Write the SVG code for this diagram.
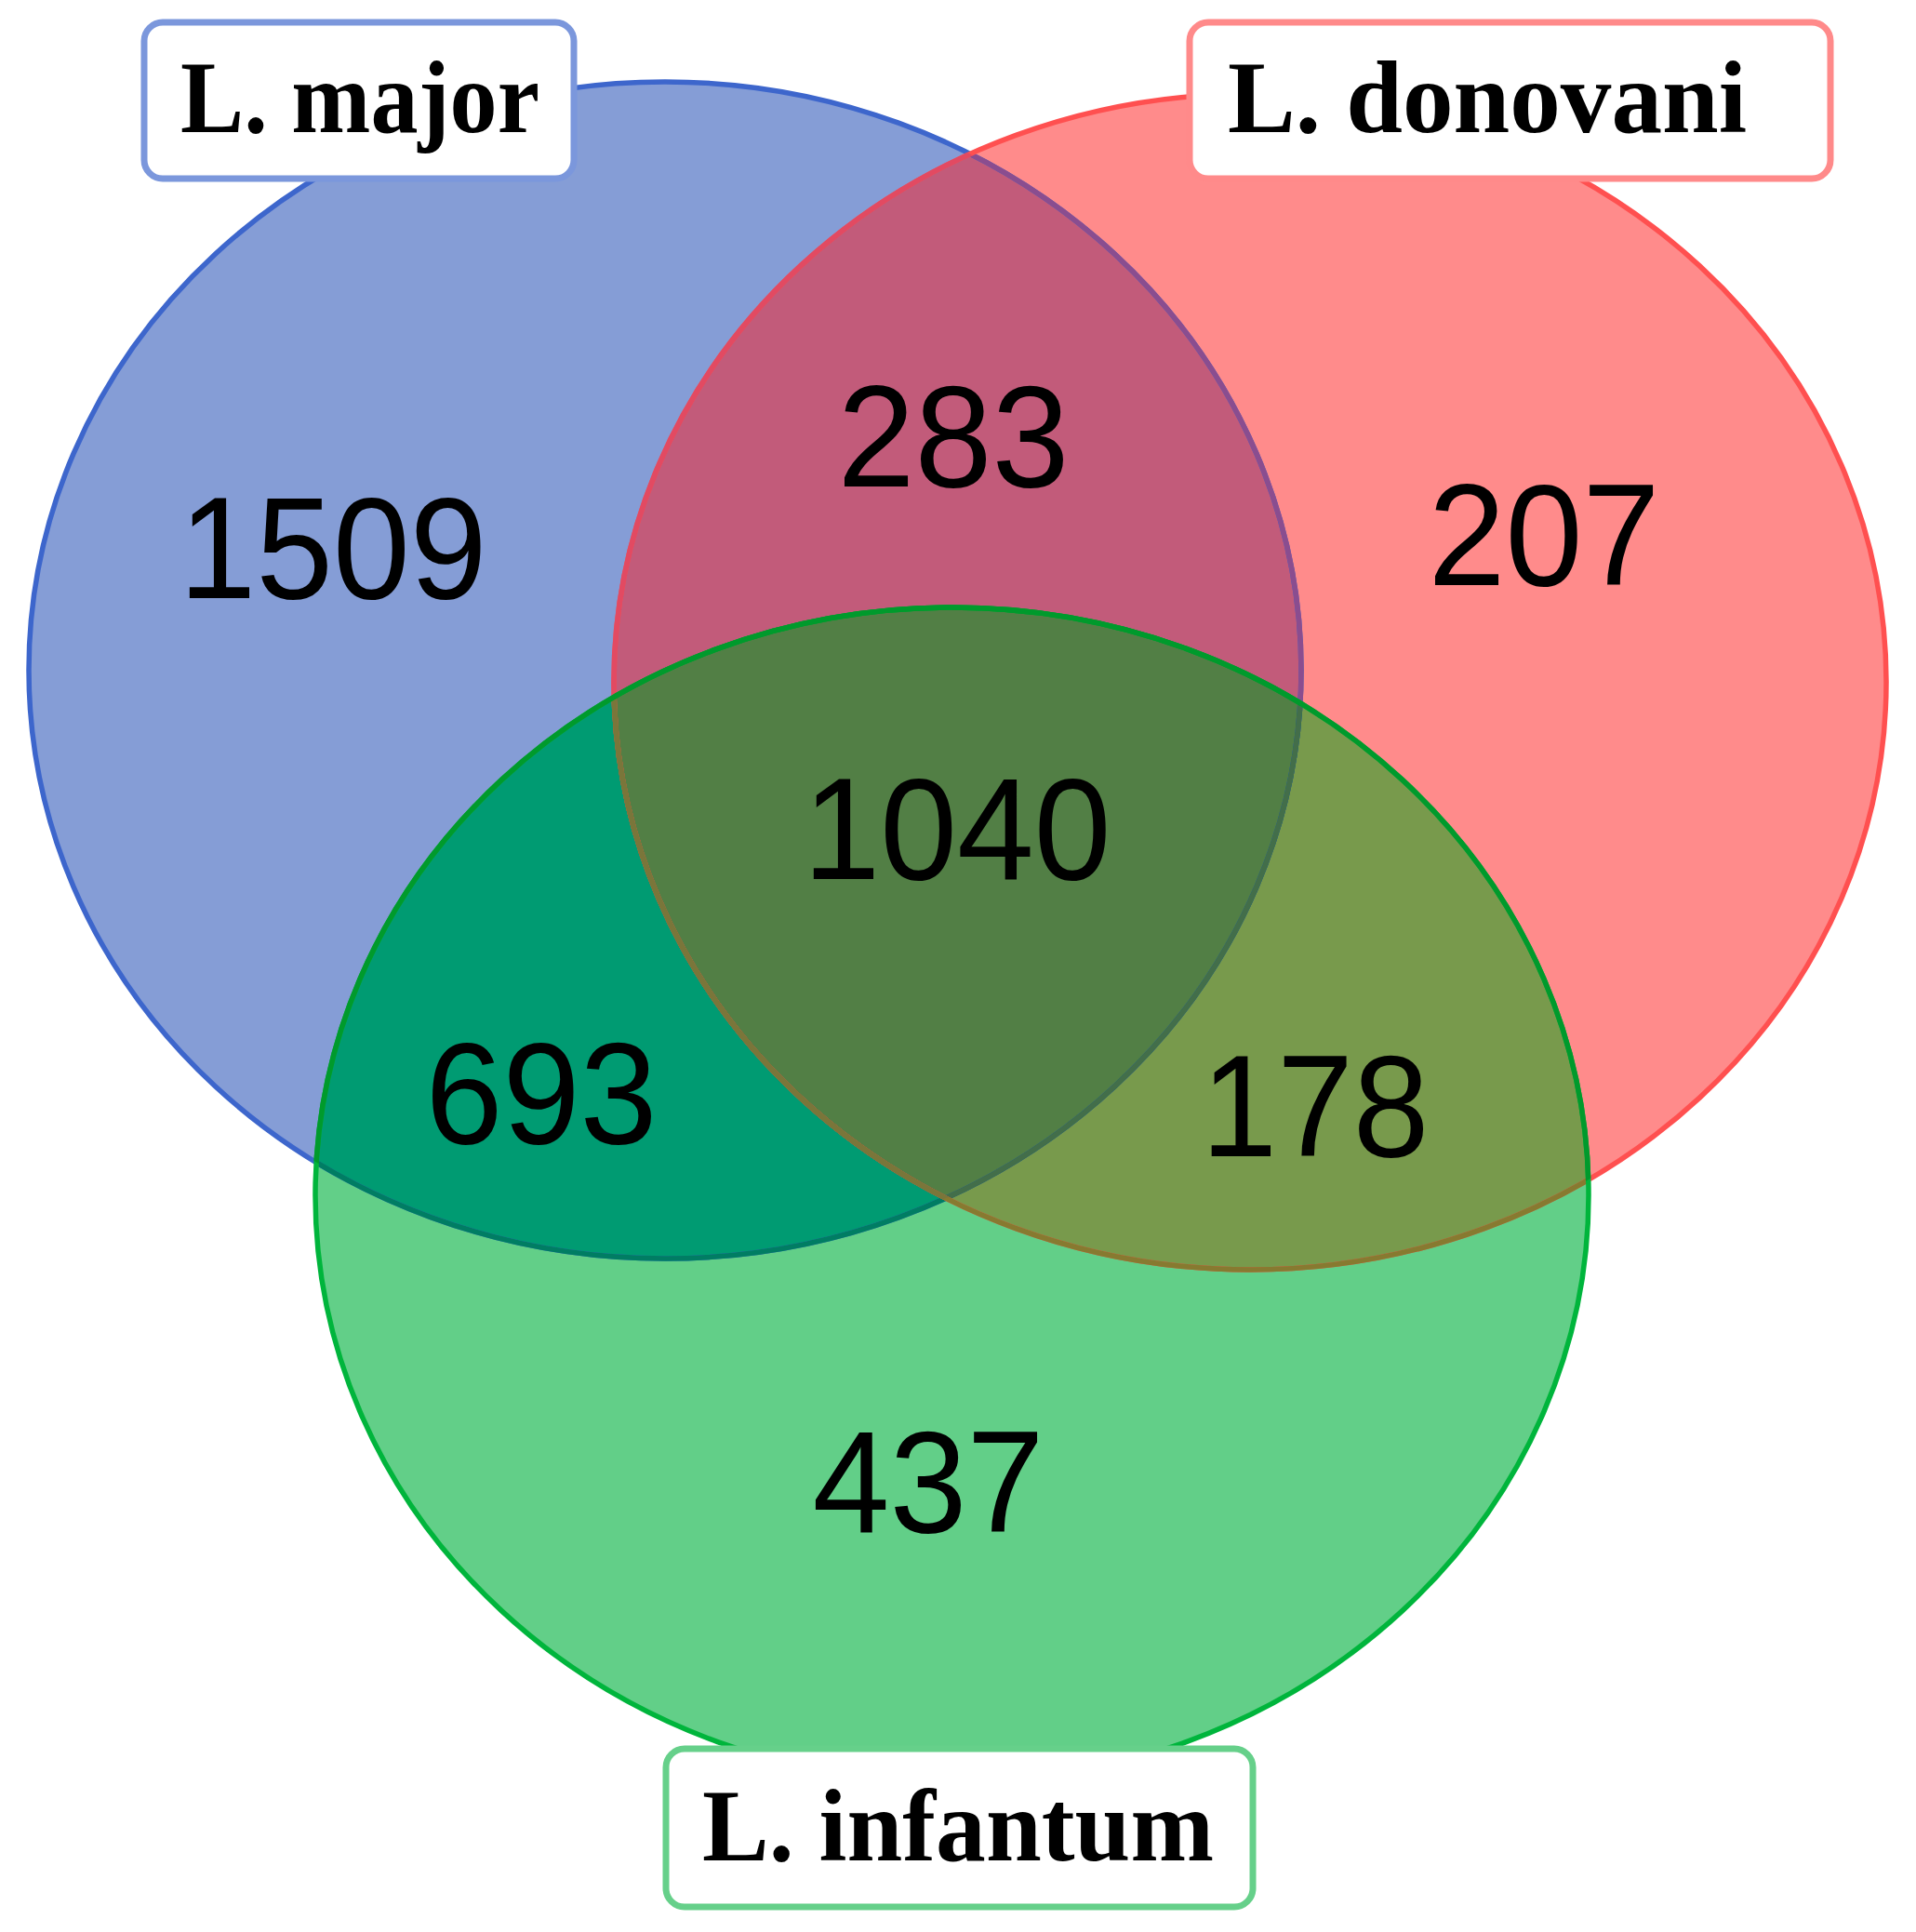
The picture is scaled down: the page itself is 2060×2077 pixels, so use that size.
<svg xmlns="http://www.w3.org/2000/svg" width="2060" height="2077" viewBox="0 0 2060 2077">
  <style>
    .num { font-family: "Liberation Sans", Arial, sans-serif; font-size: 156px; fill: #000; text-anchor: middle; }
    .lbl { font-family: "Liberation Serif", "Times New Roman", serif; font-weight: bold; font-size: 110px; fill: #000; }
    .box { fill: #fff; stroke-width: 7; }
    .ol { fill: none; stroke-width: 5.5; }
  </style>
  <defs>
    <ellipse id="eB" cx="715" cy="720.5" rx="684" ry="632.5"/>
    <ellipse id="eR" cx="1344" cy="733" rx="684" ry="632"/>
    <ellipse id="eG" cx="1023.5" cy="1285" rx="684.5" ry="632"/>
    <clipPath id="cB"><use href="#eB"/></clipPath>
    <clipPath id="cR"><use href="#eR"/></clipPath>
    <clipPath id="cG"><use href="#eG"/></clipPath>
  </defs>
  <rect width="2060" height="2077" fill="#fff"/>

  <g id="fills">
    <use href="#eB" fill="#859dd6"/>
    <use href="#eR" fill="#ff8b8b"/>
    <use href="#eG" fill="#62cf88"/>
    <use href="#eR" fill="#c25b7a" clip-path="url(#cB)"/>
    <use href="#eG" fill="#009b72" clip-path="url(#cB)"/>
    <use href="#eG" fill="#789a4c" clip-path="url(#cR)"/>
    <g clip-path="url(#cB)"><use href="#eG" fill="#527f45" clip-path="url(#cR)"/></g>
  </g>

  <g id="outlines">
    <use href="#eB" class="ol" stroke="#3d66cc"/>
    <use href="#eB" class="ol" stroke="#8a4d8f" clip-path="url(#cR)"/>
    <use href="#eB" class="ol" stroke="#007d63" clip-path="url(#cG)"/>
    <g clip-path="url(#cR)"><use href="#eB" class="ol" stroke="#436e4a" clip-path="url(#cG)"/></g>
    <use href="#eR" class="ol" stroke="#ff5050"/>
    <use href="#eR" class="ol" stroke="#e24a62" clip-path="url(#cB)"/>
    <use href="#eR" class="ol" stroke="#877a30" clip-path="url(#cG)"/>
    <g clip-path="url(#cB)"><use href="#eR" class="ol" stroke="#7a763a" clip-path="url(#cG)"/></g>
    <use href="#eG" class="ol" stroke="#00b53c"/>
    <use href="#eG" class="ol" stroke="#009a2c" clip-path="url(#cB)"/>
    <use href="#eG" class="ol" stroke="#009a2c" clip-path="url(#cR)"/>
  </g>

  <g id="label-major">
    <rect class="box" x="155" y="24" width="462" height="168" rx="20" stroke="#7b97dc"/>
    <text class="lbl" x="194" y="142" textLength="386" lengthAdjust="spacingAndGlyphs">L. major</text>
  </g>
  <g id="label-donovani">
    <rect class="box" x="1279" y="24" width="689" height="168" rx="20" stroke="#ff8a8a"/>
    <text class="lbl" x="1320" y="142" textLength="558" lengthAdjust="spacingAndGlyphs">L. donovani</text>
  </g>
  <g id="label-infantum">
    <rect class="box" x="716" y="1880" width="631" height="170" rx="20" stroke="#66d08a"/>
    <text class="lbl" x="755" y="2000" textLength="550" lengthAdjust="spacingAndGlyphs">L. infantum</text>
  </g>

  <g id="counts">
    <text class="num" x="358" y="643" textLength="331" lengthAdjust="spacingAndGlyphs">1509</text>
    <text class="num" x="1025" y="523" textLength="249" lengthAdjust="spacingAndGlyphs">283</text>
    <text class="num" x="1660" y="629" textLength="249" lengthAdjust="spacingAndGlyphs">207</text>
    <text class="num" x="1029" y="945" textLength="331" lengthAdjust="spacingAndGlyphs">1040</text>
    <text class="num" x="582" y="1229" textLength="249" lengthAdjust="spacingAndGlyphs">693</text>
    <text class="num" x="1414" y="1243" textLength="245" lengthAdjust="spacingAndGlyphs">178</text>
    <text class="num" x="998" y="1647" textLength="249" lengthAdjust="spacingAndGlyphs">437</text>
  </g>
</svg>
